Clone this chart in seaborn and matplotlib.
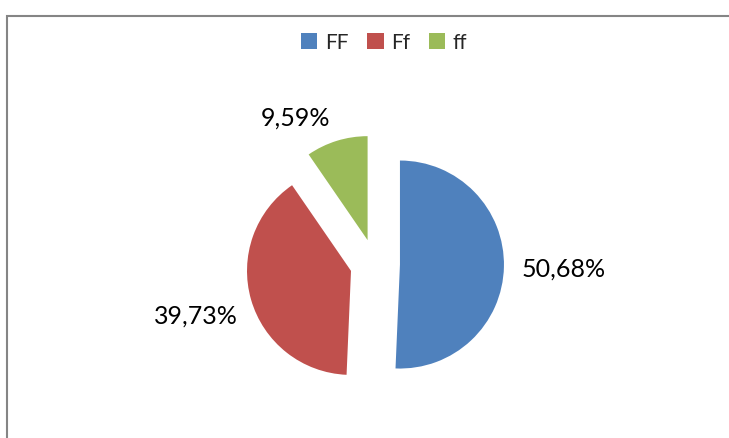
import matplotlib.pyplot as plt
import seaborn as sns
from matplotlib.patches import Patch, Rectangle
import numpy as np

# Genotype frequencies (%)
genotypes = ["FF", "Ff", "ff"]
shares = [50.68, 39.73, 9.59]
colors = ["#4F81BD", "#C0504D", "#9BBB59"]
explode = [0.24, 0.24, 0.24]
label_dist = [1.57, 1.55, 1.37]
label_turn = [0, 0, 13]  # degrees counter-clockwise nudge


def main():
    sns.set_theme(style="white")
    plt.rcParams["font.family"] = ["Lato", "DejaVu Sans"]

    fig = plt.figure(figsize=(7.29, 4.39), dpi=100)
    ax = fig.add_axes([0, 0, 1, 1])
    r_px = 104.0
    cx, cy = 375.0, 439.0 - 265.0

    wedges, _ = ax.pie(
        shares,
        colors=colors,
        explode=explode,
        startangle=90,
        counterclock=False,
        wedgeprops={"linewidth": 0},
        frame=True,
    )
    ax.set_xlim(-cx / r_px, (729 - cx) / r_px)
    ax.set_ylim(-cy / r_px, (439 - cy) / r_px)
    ax.set_aspect("auto")
    ax.axis("off")

    # value labels outside each slice
    for w, val, d, t in zip(wedges, shares, label_dist, label_turn):
        ang = np.deg2rad((w.theta1 + w.theta2) / 2 + t)
        x0, y0 = w.center
        ax.text(x0 + d * np.cos(ang), y0 + d * np.sin(ang),
                f"{val:.2f}%".replace(".", ","),
                ha="center", va="center", fontsize=18, color="black")

    # chart border (right and bottom edges run off the image)
    fig.patches.append(Rectangle((7 / 729, -0.1), 1.0, (439 - 17) / 439 + 0.1,
                                 transform=fig.transFigure, fill=False,
                                 edgecolor="#858585", linewidth=1.5))

    handles = [Patch(facecolor=c, edgecolor="none") for c in colors]
    fig.legend(handles, genotypes, loc="center",
               bbox_to_anchor=(384 / 729, 1 - 43 / 439), ncol=3,
               frameon=False, fontsize=15, handlelength=0.8,
               handleheight=0.8, handletextpad=0.35, columnspacing=0.9)

    fig.savefig("out.png", dpi=100)
    plt.close(fig)


if __name__ == "__main__":
    main()
